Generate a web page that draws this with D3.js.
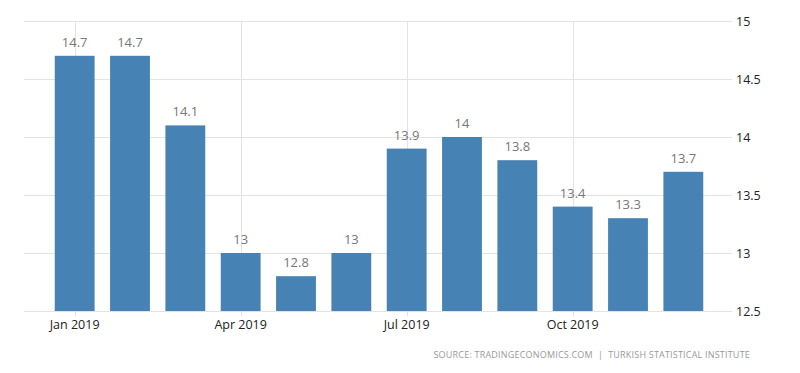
<!DOCTYPE html>
<html>
<head>
<meta charset="utf-8">
<script src="https://cdn.jsdelivr.net/npm/d3@7"></script>
<style>
  body { margin: 0; background: #fff; }
  text { font-family: 'Open Sans', 'DejaVu Sans', sans-serif; }
</style>
</head>
<body>
<div id="chart"></div>
<script>
const months = ['Jan', 'Feb', 'Mar', 'Apr', 'May', 'Jun', 'Jul', 'Aug', 'Sep', 'Oct', 'Nov', 'Dec']
const values = [14.7, 14.7, 14.1, 13.0, 12.8, 13.0, 13.9, 14.0, 13.8, 13.4, 13.3, 13.7]
const xTickMonths = ['Jan', 'Apr', 'Jul', 'Oct']
const yTicks = [12.5, 13, 13.5, 14, 14.5, 15]
const sourceText = 'SOURCE: TRADINGECONOMICS.COM  |  TURKISH STATISTICAL INSTITUTE'

const width = 800
const height = 373
const plot = { left: 24, right: 732, top: 21, bottom: 311 }

const x = d3.scaleBand()
    .domain(months)
    .range([47, 711])
    .paddingInner(0.28)
    .paddingOuter(0.14)

const y = d3.scaleLinear()
    .domain([12.5, 15])
    .range([plot.bottom, plot.top])

const svg = d3.select('#chart')
    .append('svg')
    .attr('width', width)
    .attr('height', height)

// horizontal grid
svg.append('g')
    .selectAll('line')
    .data(yTicks)
    .enter()
    .append('line')
    .attr('x1', plot.left)
    .attr('x2', plot.right)
    .attr('y1', d => Math.round(y(d)) + 0.5)
    .attr('y2', d => Math.round(y(d)) + 0.5)
    .attr('stroke', '#e3e3e3')
    .attr('stroke-width', 1)

// vertical grid at labelled months
svg.append('g')
    .selectAll('line')
    .data(xTickMonths)
    .enter()
    .append('line')
    .attr('x1', d => Math.round(x(d) + x.bandwidth() / 2) + 0.5)
    .attr('x2', d => Math.round(x(d) + x.bandwidth() / 2) + 0.5)
    .attr('y1', plot.top)
    .attr('y2', plot.bottom + 5)
    .attr('stroke', '#e3e3e3')
    .attr('stroke-width', 1)

// bars
svg.append('g')
    .selectAll('rect')
    .data(values)
    .enter()
    .append('rect')
    .attr('x', (d, i) => x(months[i]))
    .attr('width', x.bandwidth())
    .attr('y', d => y(d))
    .attr('height', d => plot.bottom - y(d))
    .attr('fill', '#4682b4')

// value labels
svg.append('g')
    .selectAll('text')
    .data(values)
    .enter()
    .append('text')
    .attr('x', (d, i) => x(months[i]) + x.bandwidth() / 2)
    .attr('y', d => y(d) - 9)
    .attr('text-anchor', 'middle')
    .style('font-size', '13px')
    .style('fill', '#777')
    .text(d => d3.format('~g')(d))

// right axis labels
const yAxis = d3.axisRight(y)
    .tickValues(yTicks)
    .tickSize(0)
    .tickPadding(4)
    .tickFormat(d3.format('~g'))

const yAxisNode = svg.append('g')
    .attr('transform', `translate(${plot.right}, 0)`)
    .call(yAxis)
yAxisNode.select('.domain').remove()
yAxisNode.selectAll('text')
    .style('font-family', "'Open Sans', 'DejaVu Sans', sans-serif")
    .style('font-size', '12.5px')
    .style('fill', '#222')

// bottom axis labels
const xAxis = d3.axisBottom(x)
    .tickValues(xTickMonths)
    .tickSize(0)
    .tickPadding(9)
    .tickFormat(d => `${d} 2019`)

const xAxisNode = svg.append('g')
    .attr('transform', `translate(0, ${plot.bottom})`)
    .call(xAxis)
xAxisNode.select('.domain').remove()
xAxisNode.selectAll('text')
    .style('font-family', "'Open Sans', 'DejaVu Sans', sans-serif")
    .style('font-size', '12.5px')
    .style('fill', '#222')

// source
svg.append('text')
    .attr('x', 750)
    .attr('y', 358)
    .attr('text-anchor', 'end')
    .style('font-size', '9px')
    .style('letter-spacing', '0.2px')
    .style('fill', '#999')
    .style('white-space', 'pre')
    .text(sourceText)
</script>
</body>
</html>
